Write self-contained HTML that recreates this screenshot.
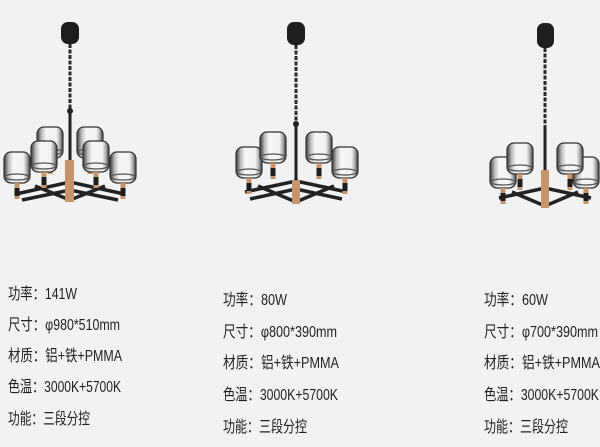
<!DOCTYPE html>
<html><head><meta charset="utf-8"><style>
html,body{margin:0;padding:0;background:#f1f2f4;}
svg{display:block}
text{font-family:"Liberation Sans","Noto Sans CJK SC",sans-serif;font-size:16px;fill:#222;}
</style></head><body>
<svg width="600" height="447" viewBox="0 0 600 447" xmlns="http://www.w3.org/2000/svg">
<defs>
<linearGradient id="sh" x1="0" x2="1">
<stop offset="0" stop-color="#3a3a3a"/><stop offset="0.18" stop-color="#bdbdbd"/><stop offset="0.35" stop-color="#f6f6f6"/><stop offset="0.75" stop-color="#f2f2f2"/><stop offset="0.88" stop-color="#aaa"/><stop offset="1" stop-color="#3a3a3a"/>
</linearGradient>
<g id="shade">
<rect x="-13" y="-16" width="26" height="31" rx="7" fill="url(#sh)" stroke="#333" stroke-width="1.2"/>
<ellipse cx="0" cy="9" rx="12" ry="3" fill="none" stroke="#555" stroke-width="1.2"/>
<rect x="-2.5" y="15" width="5" height="5" fill="#c8956a"/>
<rect x="-2.5" y="20" width="5" height="9" fill="#1e1e1e"/>
<rect x="-2.5" y="28" width="5" height="3" fill="#c8956a"/>
</g>
</defs>
<rect width="600" height="447" fill="#f1f2f4"/>

<!-- chandelier 1 -->
<g>
<rect x="61" y="22" width="18" height="22" rx="7" fill="#1e1e1e"/>
<path d="M70 44 L70 110" stroke="#2a2a2a" stroke-width="3" stroke-dasharray="4 1.5"/>
<circle cx="70" cy="111" r="3" fill="#222"/>
<rect x="68.5" y="112" width="3" height="50" fill="#222"/>
<path d="M16 194 L70 182 L124 194 M35 186 L70 200 L105 186 M22 200 L70 190 L118 200" stroke="#222" stroke-width="3.5" fill="none"/>
<rect x="65" y="160" width="9" height="42" fill="#c8956a"/>
<use href="#shade" x="50" y="143"/><use href="#shade" x="90" y="143"/>
<use href="#shade" x="17" y="168"/><use href="#shade" x="123" y="168"/>
<use href="#shade" x="44" y="157"/><use href="#shade" x="96" y="157"/>
</g>

<!-- chandelier 2 -->
<g>
<rect x="287" y="22" width="18" height="23" rx="7" fill="#1e1e1e"/>
<path d="M296 45 L296 122" stroke="#2a2a2a" stroke-width="3" stroke-dasharray="4 1.5"/>
<circle cx="296" cy="124" r="3" fill="#222"/>
<rect x="294.5" y="124" width="3" height="60" fill="#222"/>
<path d="M245 192 L296 181 L347 192 M258 186 L296 202 L334 186 M250 199 L296 189 L342 199" stroke="#222" stroke-width="3.5" fill="none"/>
<rect x="292" y="180" width="8" height="24" fill="#c8956a"/>
<use href="#shade" x="249" y="163"/><use href="#shade" x="345" y="163"/>
<use href="#shade" x="273" y="148"/><use href="#shade" x="319" y="148"/>
</g>

<!-- chandelier 3 -->
<g>
<rect x="537" y="23" width="17" height="25" rx="7" fill="#1e1e1e"/>
<path d="M545 48 L545 128" stroke="#2a2a2a" stroke-width="3" stroke-dasharray="4 1.5"/>
<rect x="543.5" y="128" width="3" height="45" fill="#222"/>
<path d="M499 198 L545 188 L591 198 M512 192 L545 206 L578 192" stroke="#222" stroke-width="3.5" fill="none"/>
<rect x="541" y="170" width="8" height="38" fill="#c8956a"/>
<use href="#shade" x="503" y="173"/><use href="#shade" x="586" y="173"/>
<use href="#shade" x="520" y="159"/><use href="#shade" x="570" y="159"/>
</g>

<!-- text col 1 -->
<text x="8" y="299" textLength="69" lengthAdjust="spacingAndGlyphs">功率：141W</text>
<text x="8" y="330" textLength="112" lengthAdjust="spacingAndGlyphs">尺寸：φ980*510mm</text>
<text x="8" y="361" textLength="114" lengthAdjust="spacingAndGlyphs">材质：铝+铁+PMMA</text>
<text x="8" y="392" textLength="113" lengthAdjust="spacingAndGlyphs">色温：3000K+5700K</text>
<text x="8" y="424" textLength="82" lengthAdjust="spacingAndGlyphs">功能：三段分控</text>

<!-- text col 2 -->
<text x="223" y="305" textLength="64" lengthAdjust="spacingAndGlyphs">功率：80W</text>
<text x="223" y="337" textLength="114" lengthAdjust="spacingAndGlyphs">尺寸：φ800*390mm</text>
<text x="223" y="368" textLength="116" lengthAdjust="spacingAndGlyphs">材质：铝+铁+PMMA</text>
<text x="223" y="400" textLength="115" lengthAdjust="spacingAndGlyphs">色温：3000K+5700K</text>
<text x="223" y="432" textLength="84" lengthAdjust="spacingAndGlyphs">功能：三段分控</text>

<!-- text col 3 -->
<text x="484" y="305" textLength="64" lengthAdjust="spacingAndGlyphs">功率：60W</text>
<text x="484" y="337" textLength="114" lengthAdjust="spacingAndGlyphs">尺寸：φ700*390mm</text>
<text x="484" y="368" textLength="116" lengthAdjust="spacingAndGlyphs">材质：铝+铁+PMMA</text>
<text x="484" y="400" textLength="115" lengthAdjust="spacingAndGlyphs">色温：3000K+5700K</text>
<text x="484" y="432" textLength="84" lengthAdjust="spacingAndGlyphs">功能：三段分控</text>
</svg>
</body></html>
